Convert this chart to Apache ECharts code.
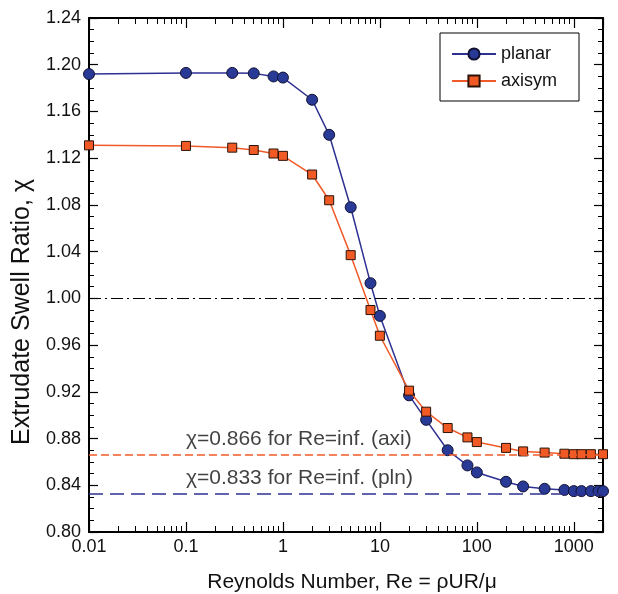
<!DOCTYPE html>
<html><head><meta charset="utf-8">
<script src="https://cdn.jsdelivr.net/npm/echarts@6/dist/echarts.min.js"></script>
<style>html,body{margin:0;padding:0;background:#fff}#c{width:618px;height:594px}</style>
</head><body><div id="c"></div>
<script>
// ---- data ----
const planarRe = [0.01,0.1,0.3,0.5,0.8,1,2,3,5,8,10,20,30,50,80,100,200,300,500,800,1000,1200,1500,1800,2000];
const planarChi = [1.192,1.193,1.193,1.1926,1.190,1.189,1.170,1.140,1.078,1.013,0.985,0.917,0.896,0.870,0.857,0.851,0.843,0.839,0.837,0.836,0.835,0.835,0.835,0.835,0.835];
const axisymRe = [0.01,0.1,0.3,0.5,0.8,1,2,3,5,8,10,20,30,50,80,100,200,300,500,800,1000,1200,1500,2000];
const axisymChi = [1.131,1.1305,1.129,1.127,1.124,1.122,1.106,1.084,1.037,0.990,0.968,0.921,0.903,0.889,0.881,0.877,0.872,0.869,0.868,0.867,0.8666,0.8666,0.8666,0.8666];
const xMajorLabels = [0.01,0.1,1,10,100,1000];
const xMinorTicks = [];
[0.01,0.1,1,10,100,1000].forEach(d => { for (let k = 2; k <= 9; k++) { const v = +(d*k).toPrecision(3); if (v < 2000) xMinorTicks.push(v); } });
const unityLevel = 1.0;
const axiLimit = 0.866;
const plnLimit = 0.833;
const axiNote = 'χ=0.866 for Re=inf. (axi)';
const plnNote = 'χ=0.833 for Re=inf. (pln)';
const noteRe = 0.1;

const FONT = "'Liberation Sans', Arial, Helvetica, sans-serif";
const BLUE = '#2e3192', BLUE_FILL = '#283a96', ORANGE = '#f05a28', ORANGE_FILL = '#f15a24';

const chart = echarts.init(document.getElementById('c'), null, {renderer: 'canvas'});
const xBase = {
  type: 'log', logBase: 10, min: 0.01, max: 2000, gridIndex: 0,
  axisLine: {show: true, lineStyle: {color: '#000', width: 2}},
  splitLine: {show: false}
};
const yBase = {
  type: 'value', min: 0.80, max: 1.24, interval: 0.04,
  axisLine: {show: true, lineStyle: {color: '#000', width: 2}},
  axisTick: {show: true, inside: true, length: 9, lineStyle: {color: '#000', width: 1.2}},
  minorTick: {show: true, splitNumber: 4, length: 5, lineStyle: {color: '#000', width: 1}},
  splitLine: {show: false}
};
const option = {
  animation: false,
  backgroundColor: '#fff',
  textStyle: {fontFamily: FONT},
  grid: {left: 89, right: 15, top: 18, bottom: 62, containLabel: false, outerBoundsMode: 'none'},
  legend: {
    data: ['planar', 'axisym'], orient: 'vertical', left: 440, top: 33,
    borderColor: '#000', borderWidth: 1, padding: [12, 22, 11, 11],
    itemWidth: 44, itemHeight: 14, itemGap: 9,
    textStyle: {fontFamily: FONT, fontSize: 18, color: '#111'}
  },
  xAxis: [
    Object.assign({}, xBase, {
      position: 'bottom',
      name: 'Reynolds Number, Re = ρUR/μ', nameLocation: 'middle', nameGap: 40,
      nameTextStyle: {fontFamily: FONT, fontSize: 21, color: '#111', padding: [0, 0, 0, 12]},
      axisTick: {show: true, inside: true, length: 10, lineStyle: {color: '#000', width: 1.2}},
      axisLabel: {show: true, fontFamily: FONT, fontSize: 18, color: '#111', margin: 6,
        formatter: v => xMajorLabels.some(m => Math.abs(m - v) / m < 1e-6) ? String(v) : ''}
    }),
    Object.assign({}, xBase, {
      position: 'bottom', axisLine: {show: false},
      axisTick: {show: true, inside: true, length: 6, customValues: xMinorTicks, lineStyle: {color: '#000', width: 1}},
      axisLabel: {show: false}
    }),
    Object.assign({}, xBase, {
      position: 'top',
      axisTick: {show: true, inside: true, length: 10, lineStyle: {color: '#000', width: 1.2}},
      axisLabel: {show: false}
    }),
    Object.assign({}, xBase, {
      position: 'top', axisLine: {show: false},
      axisTick: {show: true, inside: true, length: 6, customValues: xMinorTicks, lineStyle: {color: '#000', width: 1}},
      axisLabel: {show: false}
    })
  ],
  yAxis: [
    Object.assign({}, yBase, {
      position: 'left',
      name: 'Extrudate Swell Ratio, χ', nameLocation: 'middle', nameGap: 54, nameRotate: 90,
      nameTextStyle: {fontFamily: FONT, fontSize: 25, color: '#111', padding: [0, 74, 0, 0]},
      axisLabel: {show: true, fontFamily: FONT, fontSize: 18, color: '#111', margin: 8,
        formatter: v => v.toFixed(2)}
    }),
    Object.assign({}, yBase, {position: 'right', axisLabel: {show: false}})
  ],
  series: [
    {
      name: 'planar', type: 'line', xAxisIndex: 0, yAxisIndex: 0,
      data: planarRe.map((x, i) => [x, planarChi[i]]),
      symbol: 'circle', symbolSize: 11, showAllSymbol: true,
      lineStyle: {color: BLUE, width: 1.5},
      itemStyle: {color: BLUE_FILL, borderColor: '#111133', borderWidth: 1},
      z: 3,
      markLine: {
        silent: true, symbol: ['none', 'none'], label: {show: false}, precision: 4,
        data: [
          {yAxis: unityLevel, lineStyle: {color: '#000', width: 1.2, type: [12, 4, 2, 4]}},
          {yAxis: plnLimit, lineStyle: {color: BLUE, width: 1.6, type: [14, 7]}}
        ]
      }
    },
    {
      name: 'axisym', type: 'line', xAxisIndex: 0, yAxisIndex: 0,
      data: axisymRe.map((x, i) => [x, axisymChi[i]]),
      symbol: 'rect', symbolSize: 9, showAllSymbol: true,
      lineStyle: {color: ORANGE, width: 1.5},
      itemStyle: {color: ORANGE_FILL, borderColor: '#2a1208', borderWidth: 1},
      z: 4,
      markLine: {
        silent: true, symbol: ['none', 'none'], label: {show: false}, precision: 4,
        data: [
          {yAxis: axiLimit, lineStyle: {color: ORANGE, width: 1.6, type: [8, 4]}}
        ]
      }
    },
    {
      name: 'notes', type: 'scatter', xAxisIndex: 0, yAxisIndex: 0,
      symbolSize: 0, silent: true,
      data: [
        {value: [noteRe, axiLimit], label: {formatter: axiNote}},
        {value: [noteRe, plnLimit], label: {formatter: plnNote}}
      ],
      label: {show: true, position: [0, -5], align: 'left', verticalAlign: 'bottom',
        fontFamily: FONT, fontSize: 21, color: '#111'}
    }
  ]
};
chart.setOption(option);
</script>
</body></html>
